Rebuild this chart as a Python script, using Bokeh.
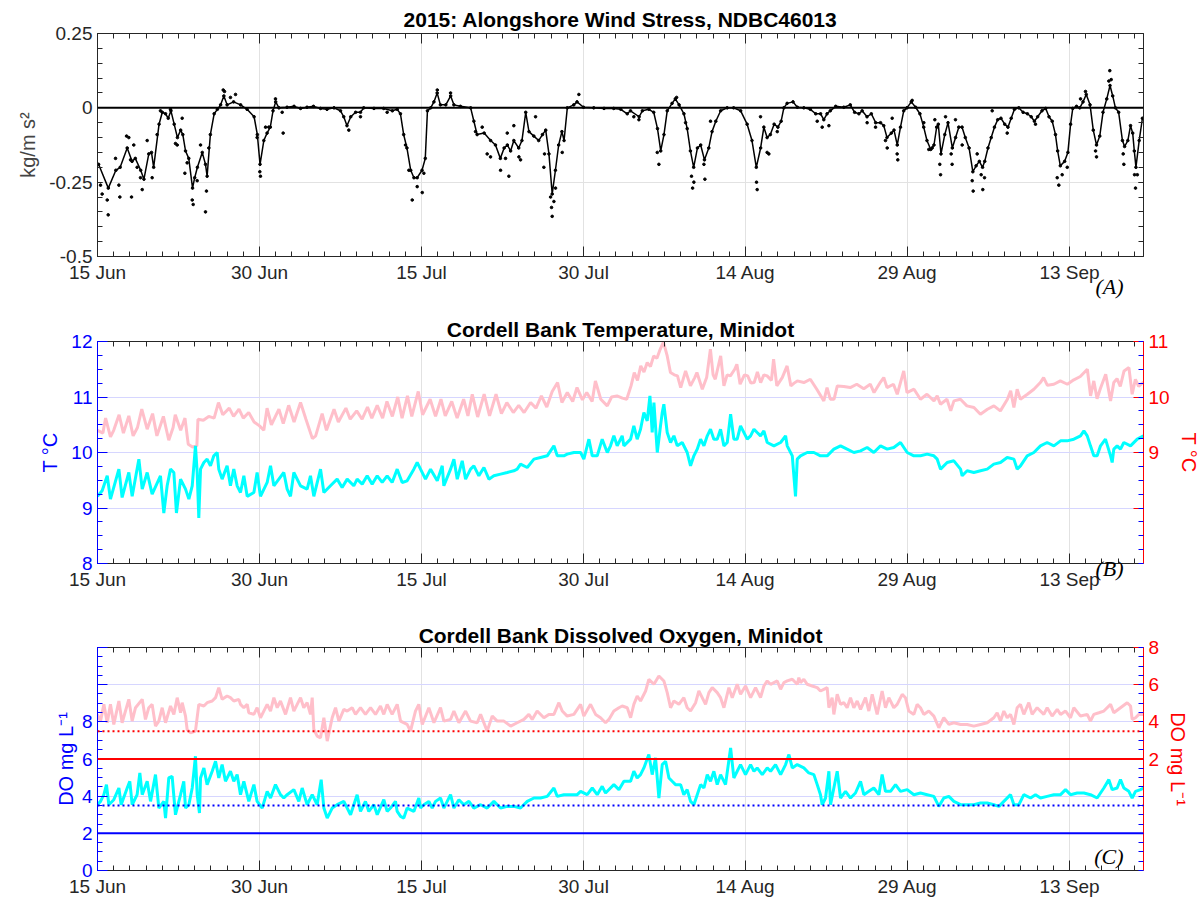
from datetime import date, timedelta
from bokeh.plotting import figure
from bokeh.models import Range1d, LinearAxis, FixedTicker, Span, Label, Grid
from bokeh.layouts import column
from bokeh.embed import file_html
from bokeh.resources import INLINE

# ---------------- data (x = days since 15 Jun 2015) ----------------
START = date(2015, 6, 15)
X_END = 96.85
date_ticks = [0, 15, 30, 45, 60, 75, 90]
date_labels = [(START + timedelta(days=d)).strftime("%d %b") for d in date_ticks]

titles = ["2015: Alongshore Wind Stress, NDBC46013",
          "Cordell Bank Temperature, Minidot",
          "Cordell Bank Dissolved Oxygen, Minidot"]
panel_tags = ["(A)", "(B)", "(C)"]

# smoothed alongshore wind stress (kg/m s^2)
wind_line = [(0.1, -0.19), (1.0, -0.27), (1.7, -0.21), (2.1, -0.20), (2.75, -0.135), (3.2, -0.18), (3.5, -0.17),
    (4.0, -0.21), (4.3, -0.24), (4.75, -0.155), (5.0, -0.15), (5.2, -0.20), (5.7, -0.055), (6.0, -0.015),
    (6.3, -0.02), (6.55, -0.035), (6.8, -0.01), (7.1, -0.055), (7.4, -0.10), (7.7, -0.075), (7.9, -0.09),
    (8.15, -0.145), (8.45, -0.17), (8.8, -0.27), (9.0, -0.235), (9.25, -0.20), (9.7, -0.15), (10.0, -0.19),
    (10.15, -0.23), (10.45, -0.09), (10.8, -0.02), (11.1, -0.005), (11.4, 0.01), (11.7, 0.04), (12.0, 0.01),
    (12.6, 0.02), (13.25, 0.01), (13.85, -0.005), (14.5, -0.03), (14.8, -0.09), (15.05, -0.19), (15.4, -0.11),
    (15.7, -0.085), (16.0, -0.065), (16.25, -0.01), (16.5, 0.02), (16.8, 0.0), (17.55, 0.002), (18.2, 0.005),
    (18.8, -0.002), (19.4, 0.002), (20.0, 0.005), (20.65, -0.002), (21.25, -0.005), (21.9, 0.0), (22.5, -0.01),
    (22.8, -0.03), (23.1, -0.06), (23.45, -0.03), (23.9, -0.015), (24.35, -0.015), (24.65, 0.0), (25.6, -0.002),
    (26.5, -0.002), (27.3, -0.01), (27.75, -0.005), (28.05, -0.02), (28.35, -0.09), (28.65, -0.135), (29.0, -0.21),
    (29.3, -0.235), (29.6, -0.235), (30.05, -0.21), (30.35, -0.17), (30.55, -0.01), (30.85, 0.0), (31.15, 0.02),
    (31.45, 0.05), (31.75, 0.01), (32.25, 0.01), (32.7, 0.04), (33.0, 0.01), (33.6, 0.005), (34.55, 0.0),
    (34.85, -0.045), (35.15, -0.09), (35.8, -0.085), (36.4, -0.11), (36.85, -0.125), (37.3, -0.17), (37.65, -0.135),
    (37.95, -0.125), (38.25, -0.145), (38.55, -0.11), (39.0, -0.135), (39.3, -0.11), (39.65, -0.015), (39.95, -0.08),
    (40.4, -0.095), (40.85, -0.11), (41.2, -0.09), (41.5, -0.075), (41.8, -0.155), (42.1, -0.29), (42.4, -0.21),
    (42.7, -0.125), (43.0, -0.08), (43.2, -0.11), (43.5, 0.0), (44.1, 0.01), (44.4, 0.02), (45.0, 0.002),
    (45.95, 0.0), (46.9, -0.002), (47.8, -0.002), (48.45, -0.005), (49.05, -0.02), (49.35, -0.01), (50.15, -0.03),
    (50.45, -0.01), (51.05, -0.005), (51.5, -0.015), (51.85, -0.07), (52.15, -0.145), (52.45, -0.09), (52.75, -0.01),
    (53.2, 0.015), (53.5, 0.03), (53.85, 0.01), (54.3, -0.02), (54.6, -0.07), (54.9, -0.145), (55.2, -0.20),
    (55.55, -0.135), (55.85, -0.125), (56.2, -0.175), (56.6, -0.135), (56.9, -0.08), (57.25, -0.045), (57.7, -0.01),
    (58.3, 0.0), (58.9, 0.0), (59.55, -0.01), (60.15, -0.055), (60.6, -0.11), (61.0, -0.20), (61.4, -0.135),
    (61.7, -0.065), (62.0, -0.10), (62.3, -0.09), (62.65, -0.055), (63.0, -0.065), (63.3, -0.045), (63.55, 0.0),
    (63.85, 0.015), (64.4, 0.02), (64.8, 0.002), (65.4, 0.0), (66.0, -0.005), (66.5, -0.02), (66.95, -0.02),
    (67.25, -0.04), (67.55, -0.02), (67.85, -0.01), (68.35, 0.005), (69.1, 0.002), (69.7, 0.01), (70.1, -0.015),
    (70.5, -0.02), (70.8, -0.01), (71.25, -0.03), (71.65, -0.02), (72.05, -0.05), (72.5, -0.05), (72.8, -0.06),
    (73.1, -0.10), (73.5, -0.085), (73.75, -0.075), (74.05, -0.125), (74.35, -0.065), (74.65, -0.01), (74.95, 0.0),
    (75.35, 0.02), (75.75, 0.002), (76.15, -0.02), (76.5, -0.065), (76.8, -0.11), (77.15, -0.14), (77.45, -0.125),
    (77.7, -0.065), (77.85, -0.055), (78.1, -0.155), (78.45, -0.09), (78.75, -0.05), (79.15, -0.135), (79.45, -0.10),
    (79.75, -0.065), (80.05, -0.065), (80.35, -0.10), (80.7, -0.135), (81.05, -0.215), (81.35, -0.195), (81.65, -0.18),
    (81.95, -0.20), (82.15, -0.18), (82.45, -0.135), (82.75, -0.10), (83.05, -0.065), (83.35, -0.04), (83.65, -0.035),
    (84.0, -0.055), (84.3, -0.065), (84.6, -0.035), (84.9, -0.005), (85.3, 0.0), (85.7, -0.015), (86.1, -0.02),
    (86.45, -0.03), (86.75, -0.045), (87.05, -0.03), (87.45, -0.01), (87.8, -0.002), (88.1, -0.03), (88.4, -0.045),
    (88.7, -0.09), (88.9, -0.145), (89.15, -0.195), (89.55, -0.18), (89.85, -0.15), (90.1, -0.055), (90.3, -0.002),
    (90.65, 0.005), (90.95, 0.0), (91.25, 0.02), (91.55, 0.045), (91.9, 0.01), (92.2, -0.075), (92.5, -0.125),
    (92.8, -0.095), (93.1, -0.015), (93.45, 0.03), (93.75, 0.075), (94.0, 0.04), (94.25, 0.0), (94.55, -0.015),
    (94.9, -0.11), (95.1, -0.13), (95.4, -0.11), (95.65, -0.06), (95.85, -0.085), (96.0, -0.145), (96.15, -0.20),
    (96.45, -0.11), (96.75, -0.035)]

# hourly wind stress samples that stand off the smoothed line
wind_raw = [(0.28, -0.26), (0.43, -0.29), (0.9, -0.31), (0.99, -0.36), (1.67, -0.17), (1.98, -0.26), (2.07, -0.30),
    (2.69, -0.095), (2.9, -0.10), (3.06, -0.175), (3.15, -0.30), (3.36, -0.125), (3.67, -0.20), (3.98, -0.235),
    (4.14, -0.275), (4.6, -0.11), (5.06, -0.235), (5.52, -0.09), (5.83, -0.01), (6.76, -0.005), (7.22, -0.12),
    (7.38, -0.125), (7.84, -0.035), (8.09, -0.22), (8.3, -0.185), (8.77, -0.31), (8.86, -0.325), (9.23, -0.245),
    (9.54, -0.125), (10.0, -0.35), (10.09, -0.28), (10.31, -0.135), (11.64, 0.06), (11.76, 0.055), (12.31, 0.035),
    (12.78, 0.045), (14.78, -0.10), (15.03, -0.215), (15.09, -0.23), (15.56, -0.065), (15.86, -0.065), (16.48, 0.03),
    (17.1, -0.015), (17.19, -0.085), (23.27, -0.075), (24.35, -0.03), (26.82, -0.015), (28.52, -0.125),
    (28.83, -0.21), (29.14, -0.31), (29.6, -0.265), (30.07, -0.285), (30.22, -0.22), (31.46, 0.06), (32.69, 0.05),
    (35.0, -0.08), (35.62, -0.065), (36.08, -0.155), (36.39, -0.165), (37.32, -0.21), (37.78, -0.17),
    (37.94, -0.085), (38.09, -0.23), (38.55, -0.06), (39.02, -0.165), (39.17, -0.175), (40.56, -0.03),
    (41.33, -0.20), (41.39, -0.155), (41.95, -0.30), (42.04, -0.335), (42.1, -0.365), (42.26, -0.315),
    (42.41, -0.27), (43.03, -0.15), (44.57, 0.045), (49.66, -0.03), (50.13, -0.04), (51.83, -0.15), (51.98, -0.19),
    (53.62, 0.035), (54.45, -0.05), (55.0, -0.23), (55.1, -0.27), (55.22, -0.25), (56.15, -0.19), (56.24, -0.24),
    (56.76, -0.045), (61.02, -0.25), (61.08, -0.275), (61.39, -0.03), (62.0, -0.15), (62.16, -0.155),
    (62.94, -0.08), (66.64, -0.045), (67.1, -0.065), (67.72, -0.06), (71.26, -0.05), (72.04, -0.065),
    (72.96, -0.11), (73.12, -0.135), (73.58, -0.035), (74.04, -0.155), (74.1, -0.175), (75.43, 0.025),
    (76.51, -0.05), (76.97, -0.14), (77.28, -0.135), (77.53, -0.04), (77.99, -0.19), (78.06, -0.225),
    (78.52, -0.03), (79.04, -0.155), (79.13, -0.19), (79.44, -0.04), (80.06, -0.125), (80.99, -0.245),
    (81.08, -0.28), (81.45, -0.155), (81.82, -0.225), (81.97, -0.275), (82.13, -0.235), (82.84, -0.01),
    (84.23, -0.085), (86.85, -0.055), (88.86, -0.235), (89.01, -0.26), (89.32, -0.225), (89.79, -0.20),
    (91.02, 0.03), (91.48, 0.055), (92.41, -0.145), (92.5, -0.165), (93.64, 0.09), (93.73, 0.125), (93.86, 0.095),
    (94.97, -0.155), (95.03, -0.19), (96.02, -0.225), (96.11, -0.27), (96.28, -0.225)]

# temperature, second sensor (pink, right axis, deg C)
temp_pink = [(0, 9.40), (0.5, 9.35), (0.75, 9.62), (1.2, 9.28), (1.5, 9.40), (2.0, 9.68), (2.4, 9.35), (2.9, 9.66),
    (3.3, 9.30), (3.7, 9.45), (4.1, 9.78), (4.6, 9.42), (5.1, 9.70), (5.5, 9.30), (6.1, 9.65), (6.6, 9.22),
    (7.0, 9.45), (7.2, 9.68), (7.7, 9.40), (8.1, 9.62), (8.4, 9.15), (8.8, 9.10), (9.2, 9.12), (9.3, 9.60),
    (9.8, 9.58), (10.3, 9.65), (10.8, 9.62), (11.2, 9.90), (11.6, 9.68), (12.2, 9.80), (12.6, 9.65), (13.1, 9.78),
    (13.5, 9.62), (14.0, 9.72), (14.5, 9.55), (15.0, 9.48), (15.4, 9.40), (15.7, 9.80), (16.1, 9.50), (16.8, 9.78),
    (17.2, 9.52), (17.7, 9.85), (18.2, 9.55), (18.8, 9.90), (19.3, 9.60), (19.9, 9.25), (20.2, 9.30), (20.8, 9.70),
    (21.2, 9.40), (21.9, 9.78), (22.3, 9.55), (23.0, 9.80), (23.4, 9.60), (24.0, 9.75), (24.5, 9.60), (25.0, 9.82),
    (25.4, 9.62), (25.9, 9.85), (26.4, 9.62), (26.8, 9.92), (27.3, 9.65), (27.8, 10.00), (28.2, 9.62), (28.7, 10.02),
    (29.1, 9.65), (29.7, 10.10), (30.1, 9.68), (30.8, 9.96), (31.3, 9.65), (31.8, 9.96), (32.2, 9.66), (32.8, 9.92),
    (33.3, 9.62), (33.9, 9.96), (34.3, 9.66), (34.7, 10.05), (35.2, 9.64), (35.8, 10.05), (36.3, 9.66), (36.9, 10.05),
    (37.4, 9.70), (37.9, 9.90), (38.5, 9.72), (39.0, 9.85), (39.5, 9.72), (40.1, 9.90), (40.6, 9.80), (41.1, 10.02),
    (41.6, 9.82), (42.1, 10.10), (42.6, 10.26), (43.0, 9.90), (43.5, 10.08), (44.0, 9.92), (44.4, 10.17),
    (44.9, 9.95), (45.3, 10.08), (45.8, 9.92), (46.1, 10.29), (46.6, 9.96), (47.2, 9.84), (47.6, 10.00),
    (48.1, 10.02), (48.6, 9.98), (49.0, 9.96), (49.4, 10.20), (49.7, 10.44), (50.0, 10.30), (50.3, 10.56),
    (50.6, 10.45), (50.9, 10.62), (51.2, 10.55), (51.5, 10.74), (51.8, 10.70), (52.1, 10.86), (52.4, 10.99),
    (52.75, 10.74), (53.05, 10.44), (53.4, 10.40), (53.7, 10.38), (54.0, 10.17), (54.45, 10.47), (54.9, 10.20),
    (55.3, 10.35), (55.5, 10.44), (56.0, 10.14), (56.4, 10.35), (56.75, 10.86), (57.0, 10.40), (57.2, 10.32),
    (57.7, 10.74), (58.0, 10.20), (58.3, 10.40), (58.6, 10.38), (59.0, 10.50), (59.2, 10.59), (59.5, 10.23),
    (59.9, 10.40), (60.2, 10.38), (60.5, 10.25), (60.8, 10.26), (61.1, 10.45), (61.4, 10.26), (61.7, 10.40),
    (62.0, 10.38), (62.4, 10.30), (62.6, 10.68), (62.9, 10.20), (63.4, 10.35), (63.85, 10.56), (64.2, 10.20),
    (64.5, 10.25), (64.8, 10.29), (65.4, 10.26), (66.0, 10.32), (66.6, 10.14), (67.25, 9.93), (67.55, 10.17),
    (67.85, 9.96), (68.2, 9.96), (68.5, 10.20), (69.1, 10.19), (69.7, 10.17), (70.3, 10.23), (70.95, 10.15),
    (71.55, 10.23), (71.9, 10.08), (72.5, 10.27), (72.8, 10.35), (73.1, 10.17), (73.7, 10.23), (74.05, 10.05),
    (74.65, 10.47), (74.95, 10.08), (75.6, 10.14), (76.2, 9.96), (76.8, 10.05), (77.45, 9.93), (77.75, 10.02),
    (78.05, 9.87), (78.65, 9.96), (79.0, 9.75), (79.3, 9.93), (79.9, 9.96), (80.5, 9.84), (81.15, 9.81),
    (81.75, 9.69), (82.4, 9.78), (83.0, 9.84), (83.6, 9.75), (84.25, 9.96), (84.55, 10.11), (84.85, 9.81),
    (85.15, 10.14), (85.45, 9.96), (86.1, 10.05), (86.7, 10.14), (87.3, 10.26), (87.6, 10.35), (87.95, 10.21),
    (88.55, 10.23), (89.15, 10.29), (89.8, 10.23), (90.4, 10.31), (91.0, 10.37), (91.65, 10.50), (91.95, 10.02),
    (92.25, 10.29), (92.55, 9.97), (92.85, 10.15), (93.35, 10.41), (93.8, 9.93), (94.1, 10.26), (94.4, 10.33),
    (94.7, 10.19), (95.05, 10.47), (95.5, 10.53), (95.8, 10.05), (96.1, 10.32), (96.4, 10.19), (96.85, 10.27)]

# temperature, minidot (cyan, left axis, deg C)
temp_cyan = [(0.0, 9.21), (0.43, 9.31), (0.9, 9.58), (1.2, 9.16), (1.98, 9.70), (2.28, 9.19), (2.9, 9.64),
    (3.21, 9.21), (3.83, 9.88), (4.14, 9.34), (4.6, 9.64), (5.06, 9.25), (5.83, 9.58), (6.14, 8.91), (6.45, 9.40),
    (6.76, 9.70), (7.07, 9.64), (7.31, 8.91), (7.69, 9.52), (8.15, 9.34), (8.46, 9.16), (8.77, 9.40), (9.07, 10.12),
    (9.23, 9.64), (9.38, 8.82), (9.54, 9.70), (9.85, 9.82), (10.15, 9.88), (10.46, 9.76), (10.77, 9.94),
    (11.08, 10.0), (11.23, 9.70), (11.54, 9.52), (12.0, 9.76), (12.31, 9.40), (12.62, 9.70), (12.93, 9.40),
    (13.24, 9.28), (13.55, 9.58), (13.86, 9.21), (14.48, 9.28), (14.78, 9.64), (15.09, 9.21), (15.71, 9.46),
    (16.02, 9.76), (16.33, 9.40), (16.79, 9.52), (17.25, 9.64), (17.56, 9.34), (17.87, 9.21), (18.18, 9.64),
    (18.8, 9.40), (19.41, 9.34), (19.72, 9.58), (20.03, 9.21), (20.65, 9.70), (20.96, 9.28), (21.57, 9.40),
    (22.19, 9.52), (22.65, 9.37), (23.12, 9.52), (23.73, 9.40), (24.04, 9.52), (24.51, 9.43), (24.97, 9.58),
    (25.43, 9.43), (25.9, 9.58), (26.36, 9.46), (26.82, 9.58), (27.28, 9.46), (27.75, 9.70), (28.21, 9.46),
    (28.67, 9.49), (29.29, 9.70), (29.6, 9.82), (29.76, 9.76), (30.37, 9.52), (30.84, 9.70), (31.46, 9.49),
    (31.92, 9.76), (32.07, 9.40), (32.69, 9.70), (33.0, 9.88), (33.31, 9.52), (33.77, 9.85), (34.08, 9.52),
    (34.54, 9.70), (34.85, 9.76), (35.31, 9.58), (35.78, 9.73), (36.24, 9.52), (36.7, 9.58), (37.32, 9.61),
    (37.94, 9.64), (38.55, 9.67), (38.86, 9.70), (39.17, 9.79), (39.79, 9.73), (40.41, 9.88), (41.02, 9.91),
    (41.64, 9.94), (42.26, 10.12), (42.57, 9.94), (43.18, 9.94), (43.49, 9.97), (44.11, 10.0), (44.73, 10.0),
    (45.03, 9.88), (45.5, 10.24), (45.81, 9.94), (46.27, 9.94), (46.73, 10.24), (47.2, 10.0), (47.5, 10.12),
    (47.81, 10.30), (48.12, 10.12), (48.58, 10.30), (48.74, 10.12), (49.36, 10.24), (49.66, 10.48), (49.97, 10.24),
    (50.28, 10.42), (50.59, 10.72), (50.9, 10.57), (51.15, 11.02), (51.36, 10.36), (51.52, 10.90), (51.83, 10.0),
    (52.13, 10.48), (52.29, 10.72), (52.44, 10.87), (52.75, 10.36), (53.06, 10.18), (53.37, 10.30), (53.68, 10.12),
    (54.14, 10.18), (54.6, 10.0), (54.91, 9.76), (55.22, 9.94), (55.53, 10.06), (55.84, 10.24), (56.15, 10.12),
    (56.46, 10.30), (56.76, 10.42), (57.07, 10.24), (57.38, 10.24), (57.69, 10.42), (58.0, 10.12), (58.31, 10.18),
    (58.62, 10.69), (58.92, 10.24), (59.23, 10.24), (59.54, 10.48), (60.16, 10.24), (60.47, 10.30), (60.78, 10.42),
    (61.08, 10.36), (61.39, 10.30), (61.7, 10.39), (62.01, 10.18), (62.63, 10.12), (63.25, 10.18), (63.71, 10.30),
    (63.86, 10.12), (64.33, 9.94), (64.63, 9.21), (64.79, 9.88), (65.09, 9.94), (65.71, 10.0), (66.33, 10.0),
    (66.94, 9.94), (67.56, 9.94), (68.18, 10.06), (68.8, 10.12), (69.41, 10.06), (70.03, 10.0), (70.65, 10.03),
    (71.26, 10.09), (71.88, 10.0), (72.5, 10.12), (73.12, 10.06), (73.73, 10.09), (74.35, 10.18), (74.97, 10.0),
    (75.59, 9.94), (76.2, 9.94), (76.82, 9.97), (77.44, 9.94), (77.75, 9.88), (78.06, 9.70), (78.67, 9.82),
    (79.29, 9.85), (79.91, 9.70), (80.06, 9.58), (80.52, 9.67), (81.14, 9.64), (81.76, 9.67), (82.38, 9.70),
    (82.99, 9.79), (83.61, 9.82), (84.23, 9.91), (84.85, 9.88), (85.15, 9.70), (85.46, 9.76), (86.08, 9.94),
    (86.7, 10.0), (87.31, 10.12), (87.93, 10.18), (88.55, 10.12), (89.17, 10.21), (89.78, 10.21), (90.4, 10.24),
    (91.02, 10.30), (91.33, 10.39), (91.64, 10.30), (91.94, 10.12), (92.25, 9.94), (92.56, 9.94), (92.87, 10.12),
    (93.33, 10.24), (93.8, 9.94), (93.95, 9.82), (94.1, 10.06), (94.41, 10.12), (94.72, 10.06), (95.03, 10.18),
    (95.65, 10.12), (96.27, 10.24), (96.85, 10.30)]

# dissolved oxygen, second sensor (pink, right axis, mg/L)
do_pink = [(0.0, 4.40), (0.28, 4.04), (0.59, 4.94), (0.9, 3.95), (1.2, 4.94), (1.51, 3.86), (1.98, 5.12),
    (2.28, 3.95), (2.9, 5.21), (3.21, 4.04), (3.52, 4.76), (4.14, 5.21), (4.44, 4.13), (4.75, 4.76), (5.06, 4.94),
    (5.37, 3.77), (5.68, 4.04), (5.99, 4.76), (6.3, 3.95), (6.76, 4.85), (7.07, 4.40), (7.38, 5.30), (7.69, 4.49),
    (7.84, 5.03), (8.15, 4.31), (8.3, 3.59), (8.61, 3.41), (9.07, 3.50), (9.38, 4.94), (9.85, 4.85), (10.15, 5.03),
    (10.62, 5.12), (10.93, 5.30), (11.23, 5.84), (11.54, 5.21), (12.0, 5.39), (12.31, 5.30), (12.62, 5.12),
    (13.09, 5.21), (13.24, 4.94), (13.55, 4.76), (13.86, 4.94), (14.01, 4.49), (14.48, 4.40), (14.78, 4.76),
    (15.09, 4.22), (15.4, 4.58), (15.71, 4.94), (16.02, 4.58), (16.33, 5.30), (16.64, 4.76), (16.94, 5.12),
    (17.41, 4.40), (17.87, 5.30), (18.18, 4.58), (18.49, 4.94), (18.8, 5.30), (19.1, 4.76), (19.41, 5.03),
    (19.72, 4.40), (19.88, 5.30), (20.03, 3.59), (20.34, 3.23), (20.65, 3.14), (20.96, 4.22), (21.27, 2.96),
    (21.73, 4.22), (22.04, 4.76), (22.35, 4.04), (22.81, 4.67), (23.12, 4.58), (23.58, 4.76), (23.89, 4.40),
    (24.35, 4.76), (24.81, 4.40), (25.28, 4.76), (25.74, 4.40), (26.2, 4.85), (26.51, 4.40), (26.82, 4.94),
    (27.28, 4.40), (27.75, 4.94), (28.06, 4.04), (28.67, 3.86), (28.98, 3.50), (29.44, 4.58), (29.75, 4.94),
    (30.07, 3.86), (30.68, 4.76), (31.15, 3.95), (31.76, 4.76), (32.07, 4.04), (32.69, 4.13), (33.0, 4.58),
    (33.46, 3.95), (34.08, 4.58), (34.54, 4.04), (35.16, 3.95), (35.47, 4.40), (36.08, 3.50), (36.55, 4.31),
    (37.01, 4.04), (37.63, 4.04), (38.25, 3.77), (38.86, 3.95), (39.48, 4.13), (39.94, 4.40), (40.25, 4.13),
    (40.71, 4.58), (41.33, 4.22), (41.79, 4.40), (42.26, 4.40), (42.72, 5.03), (43.03, 4.58), (43.49, 4.31),
    (44.11, 4.40), (44.73, 4.94), (45.03, 4.31), (45.65, 4.94), (46.12, 4.40), (46.58, 4.22), (47.04, 3.95),
    (47.35, 4.13), (47.81, 4.58), (48.28, 4.76), (48.58, 4.85), (49.05, 4.76), (49.36, 4.22), (49.66, 4.94),
    (49.97, 5.39), (50.28, 5.12), (50.75, 5.66), (51.05, 6.29), (51.52, 6.02), (51.98, 6.47), (52.44, 6.20),
    (52.75, 5.57), (53.06, 4.76), (53.37, 5.12), (53.83, 4.94), (54.29, 5.30), (54.6, 4.76), (54.91, 4.58),
    (55.38, 5.03), (55.68, 5.66), (55.99, 5.30), (56.3, 4.94), (56.61, 5.57), (56.92, 5.84), (57.38, 5.57),
    (57.69, 5.30), (58.0, 4.76), (58.46, 5.84), (58.77, 5.30), (59.23, 6.02), (59.54, 5.48), (60.0, 5.93),
    (60.47, 5.30), (60.93, 5.84), (61.39, 5.30), (61.7, 5.93), (62.01, 6.20), (62.32, 6.02), (62.94, 6.20),
    (63.25, 5.75), (63.55, 6.11), (63.86, 6.20), (64.33, 6.29), (64.79, 6.02), (64.94, 6.38), (65.09, 6.11),
    (65.4, 6.29), (65.71, 6.02), (66.17, 5.93), (66.64, 5.84), (66.94, 5.66), (67.25, 5.75), (67.56, 5.84),
    (67.72, 4.76), (68.02, 5.30), (68.18, 4.40), (68.49, 5.48), (68.8, 4.94), (69.1, 5.03), (69.41, 4.76),
    (69.72, 5.30), (70.03, 4.76), (70.34, 5.12), (70.65, 4.67), (71.11, 5.30), (71.42, 4.58), (71.73, 5.48),
    (72.19, 4.40), (72.65, 5.66), (72.96, 4.76), (73.27, 5.30), (73.73, 4.76), (74.04, 4.94), (74.51, 5.48),
    (74.81, 5.30), (75.12, 4.58), (75.59, 4.40), (75.89, 4.94), (76.2, 4.76), (76.51, 4.40), (76.97, 4.58),
    (77.44, 4.31), (77.9, 3.68), (78.36, 4.22), (78.83, 3.86), (79.29, 3.95), (79.91, 3.86), (80.52, 3.86),
    (81.14, 3.77), (81.76, 3.86), (82.38, 3.95), (82.99, 4.22), (83.3, 4.49), (83.61, 4.04), (83.92, 4.58),
    (84.23, 4.22), (84.54, 4.40), (84.85, 3.86), (85.15, 4.76), (85.46, 4.94), (85.77, 4.40), (86.23, 5.03),
    (86.54, 4.40), (87.0, 4.76), (87.62, 4.40), (87.93, 4.76), (88.39, 4.31), (88.86, 4.67), (89.17, 4.40),
    (89.63, 4.58), (90.09, 4.22), (90.4, 4.76), (91.02, 4.31), (91.64, 4.40), (91.94, 4.04), (92.25, 4.40),
    (92.72, 4.49), (93.18, 4.58), (93.8, 4.94), (94.1, 4.49), (94.72, 4.76), (95.34, 5.03), (95.65, 4.85),
    (95.8, 4.13), (96.11, 4.22), (96.42, 4.40), (96.85, 4.40)]

# dissolved oxygen, minidot (cyan, left axis, mg/L)
do_cyan = [(0.0, 3.54), (0.28, 3.72), (0.59, 4.08), (0.83, 4.62), (1.05, 3.54), (1.51, 3.81), (1.98, 4.44),
    (2.19, 3.54), (2.75, 4.44), (2.99, 4.80), (3.21, 3.54), (3.67, 4.08), (3.92, 5.25), (4.14, 4.08), (4.6, 4.80),
    (4.91, 3.72), (5.37, 5.16), (5.68, 3.36), (6.14, 3.72), (6.3, 2.82), (6.6, 4.98), (6.91, 5.07), (7.22, 3.0),
    (7.69, 4.08), (7.99, 4.80), (8.15, 3.36), (8.46, 3.54), (8.77, 4.44), (9.07, 6.15), (9.23, 4.08), (9.44, 3.09),
    (9.54, 4.98), (9.85, 5.52), (10.15, 4.62), (10.62, 5.34), (10.93, 5.88), (11.23, 4.98), (11.54, 5.70),
    (11.85, 4.80), (12.31, 5.34), (12.62, 4.80), (12.93, 5.16), (13.24, 4.08), (13.55, 4.80), (14.01, 3.72),
    (14.48, 4.62), (14.78, 3.72), (15.25, 3.36), (15.71, 4.26), (16.02, 3.90), (16.48, 4.62), (16.94, 4.08),
    (17.25, 3.90), (17.56, 4.08), (18.18, 4.35), (18.64, 3.72), (18.95, 4.44), (19.41, 3.54), (19.88, 4.08),
    (20.34, 3.54), (20.71, 4.89), (20.96, 3.36), (21.27, 2.82), (21.73, 3.36), (22.19, 3.54), (22.81, 3.72),
    (23.12, 3.36), (23.43, 3.0), (24.04, 4.08), (24.35, 3.18), (24.81, 3.72), (25.12, 3.18), (25.59, 3.54),
    (25.9, 3.0), (26.51, 3.81), (26.82, 3.18), (27.13, 3.36), (27.59, 3.72), (27.75, 3.18), (28.06, 2.91),
    (28.36, 2.82), (28.67, 3.36), (29.29, 3.18), (29.75, 3.90), (29.91, 3.36), (30.22, 3.54), (30.68, 3.72),
    (30.99, 3.36), (31.3, 3.72), (31.76, 3.90), (32.07, 3.36), (32.69, 4.08), (33.0, 3.36), (33.46, 3.81),
    (33.92, 3.54), (34.39, 3.72), (34.85, 3.36), (35.47, 3.54), (36.08, 3.36), (36.7, 3.72), (37.32, 3.36),
    (37.94, 3.45), (38.55, 3.45), (39.17, 3.36), (39.79, 3.72), (40.41, 3.90), (41.02, 3.90), (41.64, 3.99),
    (42.26, 4.44), (42.57, 3.99), (43.18, 4.08), (43.8, 4.08), (44.42, 4.08), (44.73, 4.26), (45.34, 4.08),
    (45.81, 4.44), (46.27, 4.08), (46.73, 4.53), (47.04, 4.17), (47.5, 4.44), (47.81, 4.62), (48.28, 4.35),
    (48.74, 4.80), (49.36, 4.80), (49.66, 5.34), (49.97, 4.98), (50.28, 5.16), (50.59, 5.52), (51.05, 6.24),
    (51.36, 5.16), (51.67, 6.06), (51.98, 3.90), (52.29, 5.70), (52.6, 5.88), (52.91, 4.98), (53.21, 4.80),
    (53.52, 4.62), (53.99, 4.62), (54.29, 4.08), (54.6, 4.35), (54.91, 3.72), (55.22, 3.54), (55.53, 4.08),
    (55.84, 4.62), (56.15, 4.44), (56.46, 5.16), (56.76, 4.80), (57.07, 5.34), (57.38, 4.62), (57.69, 5.16),
    (58.15, 4.62), (58.62, 6.60), (58.92, 4.98), (59.23, 5.34), (59.54, 5.70), (60.0, 5.16), (60.47, 5.70),
    (60.78, 5.34), (61.08, 5.52), (61.55, 5.16), (62.01, 5.52), (62.32, 5.34), (62.78, 5.70), (63.25, 5.16),
    (63.71, 5.70), (64.02, 6.24), (64.33, 5.52), (64.79, 5.70), (65.4, 5.52), (65.86, 5.25), (66.33, 5.16),
    (66.64, 4.62), (66.94, 4.08), (67.1, 3.54), (67.41, 3.90), (67.72, 5.34), (67.87, 3.54), (68.18, 4.44),
    (68.49, 5.34), (68.8, 3.90), (69.26, 4.26), (69.72, 3.90), (70.18, 4.17), (70.65, 4.80), (70.96, 4.08),
    (71.42, 4.26), (71.88, 4.44), (72.35, 4.08), (72.65, 5.16), (72.96, 4.26), (73.43, 4.26), (73.89, 4.62),
    (74.35, 4.26), (74.97, 4.35), (75.59, 4.08), (76.2, 4.17), (76.82, 4.08), (77.44, 3.99), (77.9, 3.45),
    (78.36, 3.90), (78.83, 3.99), (79.29, 3.72), (79.91, 3.54), (80.52, 3.54), (81.14, 3.54), (81.76, 3.63),
    (82.38, 3.63), (82.99, 3.54), (83.47, 3.45), (83.92, 3.72), (84.54, 4.08), (84.85, 3.54), (85.31, 3.54),
    (85.77, 4.08), (86.39, 3.90), (86.85, 4.08), (87.31, 3.90), (87.93, 3.99), (88.55, 4.08), (89.17, 4.08),
    (89.63, 4.35), (90.09, 4.08), (90.71, 4.17), (91.33, 4.17), (91.94, 4.08), (92.56, 3.90), (93.18, 4.44),
    (93.64, 4.89), (93.95, 4.35), (94.41, 4.44), (94.72, 4.89), (95.03, 4.44), (95.49, 4.26), (95.8, 3.90),
    (96.11, 4.26), (96.57, 4.35), (96.85, 4.44)]

do_limits = [2.0, 3.5]   # hypoxia thresholds (solid, dotted)

# ---------------- styling ----------------
FONT = "Liberation Sans"
DARK = "#262626"
BLUE = "#0000ff"
RED = "#ff0000"
CYAN = "#00ffff"
PINK = "#ffbfca"
GRID_GRAY = "#e2e2e2"
GRID_BLUE = "#d6d6ff"
FW = 1046
minor_x = [round(i * 1.5, 2) for i in range(66)]


def unzip(pairs):
    return [a for a, _ in pairs], [b for _, b in pairs]


def steps(lo, hi, st):
    n = int(round((hi - lo) / st))
    return [round(lo + i * st, 3) for i in range(n + 1)]


def style_axis(ax, line_color, label_color, ticks=None, major_color=None, minor_color=None):
    ax.axis_line_color = line_color
    ax.axis_line_width = 1
    ax.major_tick_line_color = major_color or line_color
    ax.minor_tick_line_color = minor_color or line_color
    ax.major_tick_in = 10
    ax.major_tick_out = 0
    ax.minor_tick_in = 5
    ax.minor_tick_out = 0
    ax.major_label_text_font = FONT
    ax.major_label_text_color = label_color
    if ticks is None:
        ax.major_label_text_font_size = "19px"
        ax.major_label_standoff = 5
    else:  # mirrored axis without labels
        ax.major_label_overrides = {t: "" for t in ticks}
        ax.major_label_text_font_size = "1px"
        ax.major_label_standoff = 0
    ax.axis_label_text_font = FONT
    ax.axis_label_text_font_size = "20px"
    ax.axis_label_text_font_style = "normal"


def make_fig(title, ylo, yhi, fh, top, bottom, title_standoff):
    p = figure(frame_width=FW, frame_height=fh, x_range=Range1d(0, X_END), y_range=Range1d(ylo, yhi),
               x_axis_type=None, y_axis_type=None, output_backend="svg", toolbar_location=None,
               min_border_left=97, min_border_right=55, min_border_top=top, min_border_bottom=bottom)
    p.outline_line_color = None
    p.background_fill_color = "white"
    p.border_fill_color = "white"
    p.title.text = title
    p.title.align = "center"
    p.title.text_font = FONT
    p.title.text_font_size = "21px"
    p.title.text_font_style = "bold"
    p.title.text_color = "black"
    p.title.standoff = title_standoff
    xb = LinearAxis(ticker=FixedTicker(ticks=date_ticks, minor_ticks=minor_x),
                    major_label_overrides=dict(zip(date_ticks, date_labels)))
    style_axis(xb, DARK, DARK)
    p.add_layout(xb, "below")
    xt = LinearAxis(ticker=FixedTicker(ticks=date_ticks, minor_ticks=minor_x))
    style_axis(xt, DARK, DARK, ticks=date_ticks)
    p.add_layout(xt, "above")
    p.add_layout(Grid(dimension=0, ticker=FixedTicker(ticks=date_ticks), grid_line_color=GRID_GRAY))
    return p


def tag_label(text, y):
    return Label(x=1026, y=y, x_units="screen", y_units="screen", text=text, text_align="right",
                 text_baseline="middle", text_font="Liberation Serif", text_font_style="italic",
                 text_font_size="22px", text_color="black")


# ---------------- panel A: wind stress ----------------
pa = make_fig(titles[0], -0.5, 0.25, 223, 33, 44, 5)
ya_ticks = [-0.5, -0.25, 0, 0.25]
ya_minor = steps(-0.5, 0.25, 0.05)
ya = LinearAxis(ticker=FixedTicker(ticks=ya_ticks, minor_ticks=ya_minor),
                major_label_overrides={-0.5: "-0.5", -0.25: "-0.25", 0: "0", 0.25: "0.25"},
                axis_label="kg/m s²", axis_label_standoff=7)
style_axis(ya, DARK, DARK)
ya.major_tick_in = 5
pa.add_layout(ya, "left")
yr = LinearAxis(ticker=FixedTicker(ticks=ya_ticks, minor_ticks=ya_minor))
style_axis(yr, DARK, DARK, ticks=ya_ticks)
yr.major_tick_in = 5
pa.add_layout(yr, "right")
pa.add_layout(Grid(dimension=1, ticker=FixedTicker(ticks=ya_ticks), grid_line_color=GRID_GRAY))
pa.add_layout(Span(location=0, dimension="width", line_color="black", line_width=2))
wd, wv = unzip(wind_line)
rd, rv = unzip(wind_raw)
pa.scatter(rd, rv, size=2.6, color="black")
pa.scatter(wd, wv, size=2.6, color="black")
pa.line(wd, wv, line_color="black", line_width=1.5)
pa.add_layout(tag_label(panel_tags[0], 24), "below")

# ---------------- panel B: temperature ----------------
pb = make_fig(titles[1], 8, 12, 222, 31, 40, 2)
pb.extra_y_ranges = {"right": Range1d(7, 11)}
yb = LinearAxis(ticker=FixedTicker(ticks=[8, 9, 10, 11, 12], minor_ticks=steps(8, 12, 0.25)),
                axis_label="T °C", axis_label_standoff=7)
style_axis(yb, BLUE, BLUE)
yb.axis_label_text_color = BLUE
pb.add_layout(yb, "left")
ybr = LinearAxis(y_range_name="right", ticker=FixedTicker(ticks=[8, 9, 10, 11], minor_ticks=steps(7, 11, 0.25)),
                 major_label_overrides={8: ""}, axis_label="T °C", axis_label_standoff=5)
style_axis(ybr, RED, RED, major_color=RED, minor_color=BLUE)
ybr.axis_label_text_color = RED
pb.add_layout(ybr, "right")
pb.add_layout(Grid(dimension=1, ticker=FixedTicker(ticks=[9, 10, 11]), grid_line_color=GRID_BLUE))
tpd, tpv = unzip(temp_pink)
tcd, tcv = unzip(temp_cyan)
pb.line(tpd, tpv, y_range_name="right", line_color=PINK, line_width=3)
pb.line(tcd, tcv, line_color=CYAN, line_width=3)
pb.add_layout(tag_label(panel_tags[1], 49), "below")

# ---------------- panel C: dissolved oxygen ----------------
pc = make_fig(titles[2], 0, 12, 223, 30, 25, 2)
pc.extra_y_ranges = {"right": Range1d(-4, 8)}
yc = LinearAxis(ticker=FixedTicker(ticks=[0, 2, 4, 6, 8, 10, 12], minor_ticks=steps(0, 12, 0.5)),
                major_label_overrides={10: "", 12: ""}, axis_label="DO mg L⁻¹", axis_label_standoff=2)
style_axis(yc, BLUE, BLUE)
yc.axis_label_text_color = BLUE
pc.add_layout(yc, "left")
ycr = LinearAxis(y_range_name="right", ticker=FixedTicker(ticks=[2, 4, 6, 8], minor_ticks=steps(-4, 8, 0.5)),
                 axis_label="DO mg L⁻¹", axis_label_standoff=5)
style_axis(ycr, RED, RED, major_color=RED, minor_color=BLUE)
ycr.axis_label_text_color = RED
pc.add_layout(ycr, "right")
pc.add_layout(Grid(dimension=1, ticker=FixedTicker(ticks=[2, 4, 6, 8, 10]), grid_line_color=GRID_BLUE))
dpd, dpv = unzip(do_pink)
dcd, dcv = unzip(do_cyan)
pc.line(dpd, dpv, y_range_name="right", line_color=PINK, line_width=3)
pc.line(dcd, dcv, line_color=CYAN, line_width=3)
pc.add_layout(Span(location=do_limits[0], dimension="width", line_color=BLUE, line_width=2))
pc.add_layout(Span(location=do_limits[1], dimension="width", line_color=BLUE, line_width=2, line_dash="2 3"))
pc.add_layout(Span(location=do_limits[0], dimension="width", y_range_name="right", line_color=RED, line_width=2))
pc.add_layout(Span(location=do_limits[1], dimension="width", y_range_name="right", line_color=RED,
                   line_width=2, line_dash="2 3"))
pc.add_layout(tag_label(panel_tags[2], 14))

layout = column(pa, pb, pc, spacing=0)
open("out.html", "w").write(file_html(layout, INLINE))
